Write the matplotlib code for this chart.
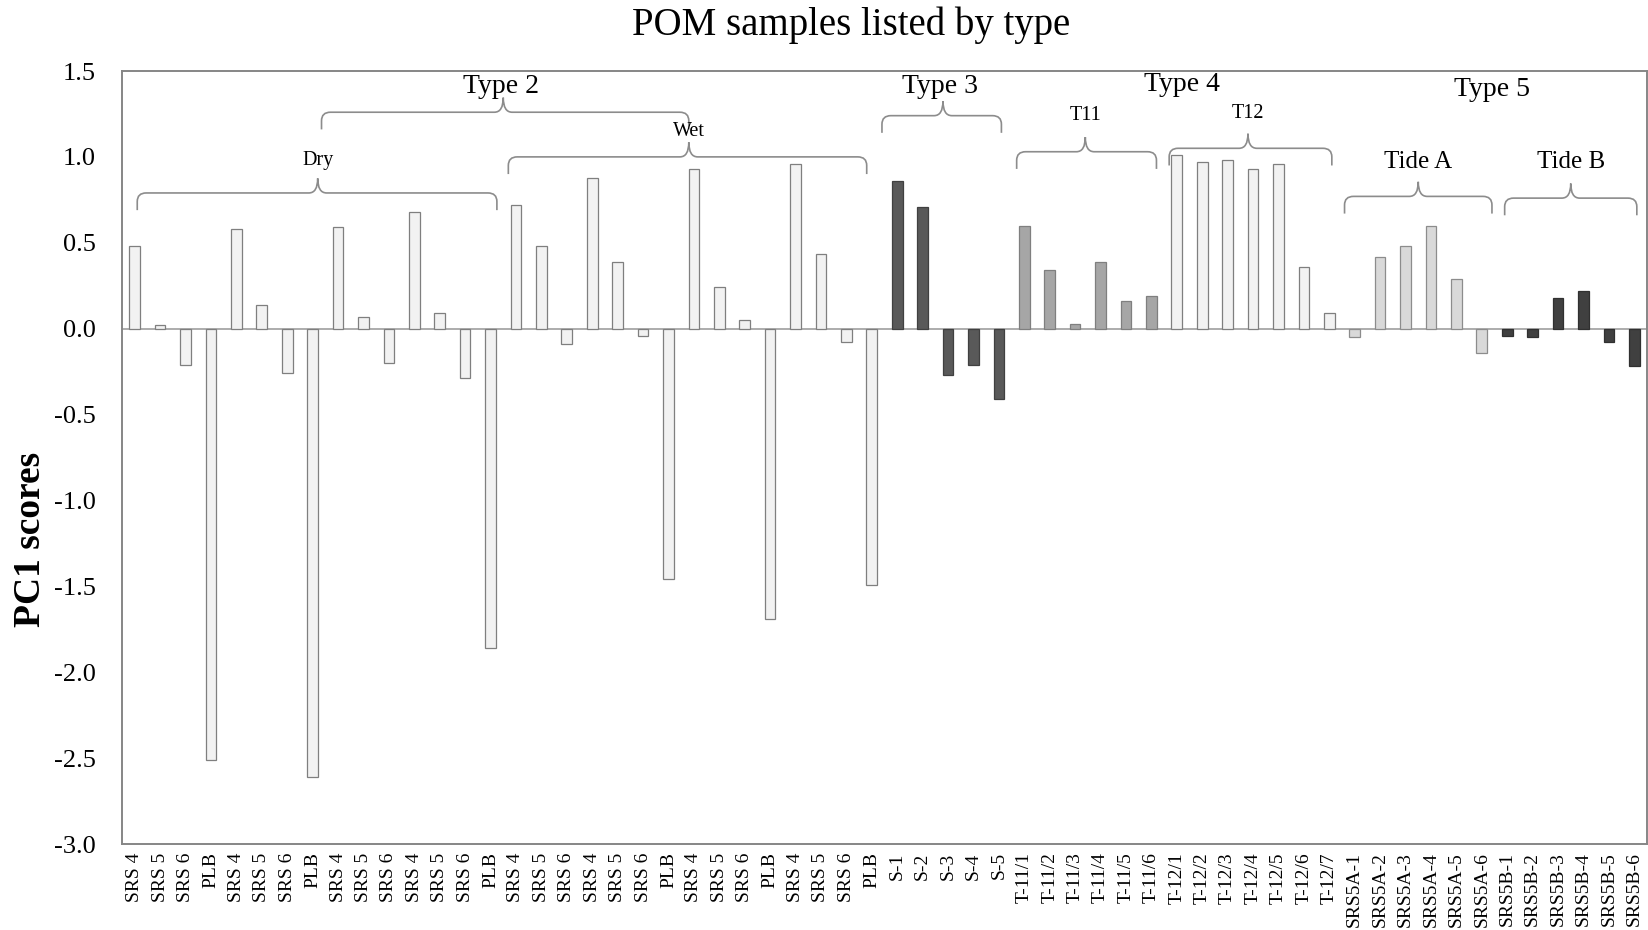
import numpy as np
import matplotlib.pyplot as plt
from matplotlib.path import Path
from matplotlib.patches import PathPatch

plt.rcParams['font.family'] = ['Liberation Serif', 'DejaVu Serif']

# Sample names per group
dry_names = ['SRS 4', 'SRS 5', 'SRS 6', 'PLB', 'SRS 4', 'SRS 5', 'SRS 6', 'PLB',
             'SRS 4', 'SRS 5', 'SRS 6', 'SRS 4', 'SRS 5', 'SRS 6', 'PLB']
wet_names = ['SRS 4', 'SRS 5', 'SRS 6', 'SRS 4', 'SRS 5', 'SRS 6', 'PLB',
             'SRS 4', 'SRS 5', 'SRS 6', 'PLB', 'SRS 4', 'SRS 5', 'SRS 6', 'PLB']
type3_names = ['S-1', 'S-2', 'S-3', 'S-4', 'S-5']
t11_names = ['T-11/1', 'T-11/2', 'T-11/3', 'T-11/4', 'T-11/5', 'T-11/6']
t12_names = ['T-12/1', 'T-12/2', 'T-12/3', 'T-12/4', 'T-12/5', 'T-12/6', 'T-12/7']
tideA_names = ['SRS5A-1', 'SRS5A-2', 'SRS5A-3', 'SRS5A-4', 'SRS5A-5', 'SRS5A-6']
tideB_names = ['SRS5B-1', 'SRS5B-2', 'SRS5B-3', 'SRS5B-4', 'SRS5B-5', 'SRS5B-6']

# PC1 scores per group
dry_pc1 = [0.48, 0.02, -0.21, -2.51, 0.58, 0.135, -0.26, -2.61,
           0.59, 0.07, -0.20, 0.68, 0.09, -0.29, -1.86]
wet_pc1 = [0.72, 0.48, -0.09, 0.88, 0.39, -0.04, -1.46,
           0.93, 0.245, 0.05, -1.69, 0.96, 0.435, -0.08, -1.49]
type3_pc1 = [0.86, 0.71, -0.27, -0.21, -0.41]
t11_pc1 = [0.60, 0.34, 0.03, 0.39, 0.16, 0.19]
t12_pc1 = [1.01, 0.97, 0.98, 0.93, 0.96, 0.36, 0.09]
tideA_pc1 = [-0.05, 0.42, 0.48, 0.60, 0.29, -0.14]
tideB_pc1 = [-0.04, -0.05, 0.18, 0.22, -0.08, -0.22]

groups = [
    (dry_names, dry_pc1, '#f2f2f2', '#7f7f7f'),
    (wet_names, wet_pc1, '#f2f2f2', '#7f7f7f'),
    (type3_names, type3_pc1, '#595959', '#404040'),
    (t11_names, t11_pc1, '#a6a6a6', '#7f7f7f'),
    (t12_names, t12_pc1, '#f2f2f2', '#7f7f7f'),
    (tideA_names, tideA_pc1, '#d9d9d9', '#8c8c8c'),
    (tideB_names, tideB_pc1, '#404040', '#303030'),
]

fig = plt.figure(figsize=(16.48, 9.30), dpi=100)
ax = fig.add_axes([122 / 1648, 1 - 844 / 930, 1525 / 1648, 773 / 930])

labels = []
start = 0
for names, vals, fc, ec in groups:
    x = np.arange(start, start + len(names))
    ax.bar(x, vals, width=0.42, color=fc, edgecolor=ec, linewidth=0.9, zorder=2)
    labels += names
    start += len(names)

ax.axhline(0, color='#a6a6a6', lw=1.3, zorder=1)
ax.set_xlim(-0.5, len(labels) - 0.5)
ax.set_ylim(-3.0, 1.5)
ax.set_xticks(np.arange(len(labels)))
ax.set_xticklabels(labels, rotation=90, fontsize=14)
yt = np.arange(-3.0, 1.51, 0.5)
ax.set_yticks(yt)
ax.set_yticklabels(['%.1f' % v for v in yt], fontsize=19)
ax.tick_params(axis='y', length=0, pad=19)
ax.tick_params(axis='x', length=0, pad=6)
for s in ax.spines.values():
    s.set_color('#868686')
    s.set_linewidth(1.4)


def brace(ax, x0, x1, y, xm, drop=0.10, tip=0.085, rx=0.35, ry=0.05):
    verts = [(x0, y - drop), (x0, y - ry), (x0, y), (x0 + rx, y),
             (xm - rx, y), (xm, y), (xm, y + tip),
             (xm, y), (xm + rx, y),
             (x1 - rx, y), (x1, y), (x1, y - ry), (x1, y - drop)]
    codes = [Path.MOVETO, Path.LINETO, Path.CURVE3, Path.CURVE3,
             Path.LINETO, Path.CURVE3, Path.CURVE3,
             Path.CURVE3, Path.CURVE3,
             Path.LINETO, Path.CURVE3, Path.CURVE3, Path.LINETO]
    ax.add_patch(PathPatch(Path(verts, codes), fill=False,
                           edgecolor='#8c8c8c', lw=1.2, zorder=3))


# group braces: left, right, height, tip position
brace(ax, 0.1, 14.25, 0.79, 7.2)
brace(ax, 14.7, 28.8, 1.00, 21.8)
brace(ax, 7.35, 21.8, 1.26, 14.5)
brace(ax, 29.4, 34.1, 1.24, 31.8)
brace(ax, 34.7, 40.2, 1.03, 37.4)
brace(ax, 40.7, 47.1, 1.05, 43.8)
brace(ax, 47.6, 53.4, 0.77, 50.5)
brace(ax, 53.9, 59.1, 0.76, 56.5)

big = dict(fontsize=20, ha='center', va='center')
small = dict(fontsize=14.5, ha='center', va='center')
mid = dict(fontsize=18, ha='center', va='center')
ax.text(14.4, 1.41, 'Type 2', **big)
ax.text(31.7, 1.41, 'Type 3', **big)
ax.text(41.2, 1.42, 'Type 4', **big)
ax.text(53.4, 1.39, 'Type 5', **big)
ax.text(7.2, 0.98, 'Dry', **small)
ax.text(21.8, 1.15, 'Wet', **small)
ax.text(37.4, 1.24, 'T11', **small)
ax.text(43.8, 1.25, 'T12', **small)
ax.text(50.5, 0.97, 'Tide A', **mid)
ax.text(56.5, 0.97, 'Tide B', **mid)

fig.text(851 / 1648, 1 - 25 / 930, 'POM samples listed by type',
         fontsize=28, ha='center', va='center')
fig.text(31 / 1648, 1 - 539 / 930, 'PC1 scores', fontsize=27,
         fontweight='bold', rotation=90, ha='center', va='center')

fig.savefig('out.png', dpi=100)
